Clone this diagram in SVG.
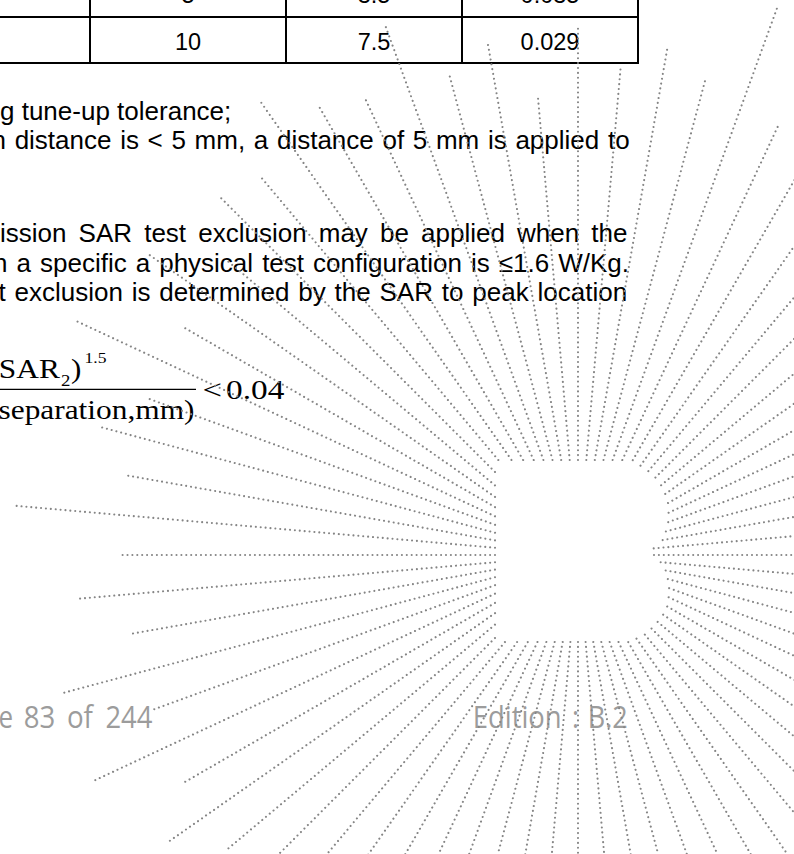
<svg xmlns="http://www.w3.org/2000/svg" width="794" height="854" viewBox="0 0 794 854">
<style>
.body{font-family:"Liberation Sans",Arial,sans-serif;font-size:26px;fill:#000}
.cell{font-family:"Liberation Sans",Arial,sans-serif;font-size:23.5px;fill:#000;text-anchor:middle}
.math{font-family:"Liberation Serif","Times New Roman",serif;fill:#000}
.foot{font-family:"Open Sans","Noto Sans",sans-serif;font-size:31px;fill:#9c9c9c}
</style>
<rect width="794" height="854" fill="#fff"/>
<g id="table">
<g stroke="#000" stroke-width="2" fill="none">
<line x1="0" y1="17" x2="639" y2="17"/>
<line x1="0" y1="63" x2="639" y2="63"/>
<line x1="90" y1="0" x2="90" y2="64"/>
<line x1="286" y1="0" x2="286" y2="64"/>
<line x1="462" y1="0" x2="462" y2="64"/>
<line x1="638" y1="0" x2="638" y2="64"/>
</g>
<text class="cell" x="188" y="3">5</text>
<text class="cell" x="374" y="3">3.5</text>
<text class="cell" x="550" y="3">0.035</text>
<text class="cell" x="188" y="50">10</text>
<text class="cell" x="374" y="50">7.5</text>
<text class="cell" x="550" y="50">0.029</text>
</g>
<g id="notes">
<text class="body" x="0" y="120">g tune-up tolerance;</text>
<text class="body" x="-8.5" y="149" word-spacing="1.45">n distance is &lt; 5 mm, a distance of 5 mm is applied to</text>
<text class="body" x="0" y="242" word-spacing="4.9">ission SAR test exclusion may be applied when the</text>
<text class="body" x="-7" y="272" word-spacing="1.8">n a specific a physical test configuration is ≤1.6 W/Kg.</text>
<text class="body" x="-1.5" y="301" word-spacing="1.6">t exclusion is determined by the SAR to peak location</text>
</g>
<g id="formula">
<text class="math" x="-1.2" y="377.7" font-size="26.7" textLength="61" lengthAdjust="spacingAndGlyphs">SAR</text>
<text class="math" x="61" y="386" font-size="16" textLength="9.4" lengthAdjust="spacingAndGlyphs">2</text>
<text class="math" x="71" y="377.7" font-size="26.7" textLength="10.4" lengthAdjust="spacingAndGlyphs">)</text>
<text class="math" x="84.5" y="363.3" font-size="15" textLength="22" lengthAdjust="spacingAndGlyphs">1.5</text>
<line x1="0" y1="389.3" x2="196" y2="389.3" stroke="#000" stroke-width="1.3"/>
<text class="math" x="202.5" y="399" font-size="26.7" textLength="19.5" lengthAdjust="spacingAndGlyphs">&lt;</text>
<text class="math" x="226" y="399" font-size="26.7" textLength="58.3" lengthAdjust="spacingAndGlyphs">0.04</text>
<text class="math" x="-1.5" y="419" font-size="26.7" textLength="196" lengthAdjust="spacingAndGlyphs">separation,mm)</text>
</g>
<g id="footer">
<text class="foot" x="-1.6" y="728" textLength="14.6" lengthAdjust="spacingAndGlyphs">e</text>
<text class="foot" x="23.7" y="728" textLength="31.5" lengthAdjust="spacingAndGlyphs">83</text>
<text class="foot" x="66.9" y="728" textLength="26" lengthAdjust="spacingAndGlyphs">of</text>
<text class="foot" x="105.4" y="728" textLength="47" lengthAdjust="spacingAndGlyphs">244</text>
<text class="foot" x="472.7" y="728" textLength="89" lengthAdjust="spacingAndGlyphs">Edition</text>
<text class="foot" x="572" y="728" textLength="7" lengthAdjust="spacingAndGlyphs">:</text>
<text class="foot" x="587.7" y="728" textLength="40" lengthAdjust="spacingAndGlyphs">B.2</text>
</g>
<g id="rays" transform="translate(578 555)" fill="none" stroke="#858585" stroke-width="2.1" stroke-linecap="round" stroke-dasharray="0 4.9">
<line x1="76" x2="800" transform="rotate(0)"/>
<line x1="83" x2="800" transform="rotate(5)"/>
<line x1="89" x2="800" transform="rotate(10)"/>
<line x1="93" x2="800" transform="rotate(15)"/>
<line x1="97" x2="800" transform="rotate(20)"/>
<line x1="100" x2="800" transform="rotate(25)"/>
<line x1="103" x2="800" transform="rotate(30)"/>
<line x1="104" x2="800" transform="rotate(35)"/>
<line x1="104" x2="800" transform="rotate(40)"/>
<line x1="104" x2="800" transform="rotate(45)"/>
<line x1="104" x2="800" transform="rotate(50)"/>
<line x1="102" x2="800" transform="rotate(55)"/>
<line x1="100.5" x2="800" transform="rotate(60)"/>
<line x1="96" x2="800" transform="rotate(65)"/>
<line x1="92.6" x2="800" transform="rotate(70)"/>
<line x1="90.1" x2="800" transform="rotate(75)"/>
<line x1="88.3" x2="800" transform="rotate(80)"/>
<line x1="87.3" x2="800" transform="rotate(85)"/>
<line x1="87" x2="800" transform="rotate(90)"/>
<line x1="87.3" x2="800" transform="rotate(95)"/>
<line x1="88.3" x2="800" transform="rotate(100)"/>
<line x1="90.1" x2="800" transform="rotate(105)"/>
<line x1="92.6" x2="800" transform="rotate(110)"/>
<line x1="96" x2="800" transform="rotate(115)"/>
<line x1="100.5" x2="800" transform="rotate(120)"/>
<line x1="106.2" x2="800" transform="rotate(125)"/>
<line x1="113.6" x2="800" transform="rotate(130)"/>
<line x1="117.4" x2="800" transform="rotate(135)"/>
<line x1="108.4" x2="457.7" transform="rotate(140)"/>
<line x1="101.3" x2="501.9" transform="rotate(145)"/>
<line x1="95.8" x2="457.9" transform="rotate(150)"/>
<line x1="91.6" x2="535" transform="rotate(155)"/>
<line x1="88.3" x2="452.6" transform="rotate(160)"/>
<line x1="85.9" x2="533.2" transform="rotate(165)"/>
<line x1="84.3" x2="456" transform="rotate(170)"/>
<line x1="83.3" x2="503.8" transform="rotate(175)"/>
<line x1="83" x2="457" transform="rotate(180)"/>
<line x1="83.3" x2="566" transform="rotate(185)"/>
<line x1="84.3" x2="457" transform="rotate(190)"/>
<line x1="85.9" x2="494.8" transform="rotate(195)"/>
<line x1="88.3" x2="458" transform="rotate(200)"/>
<line x1="91.6" x2="553.4" transform="rotate(205)"/>
<line x1="95.8" x2="458" transform="rotate(210)"/>
<line x1="101.3" x2="523.8" transform="rotate(215)"/>
<line x1="108.4" x2="458" transform="rotate(220)"/>
<line x1="117.4" x2="508.4" transform="rotate(225)"/>
<line x1="124" x2="492" transform="rotate(230)"/>
<line x1="116" x2="554.5" transform="rotate(235)"/>
<line x1="109.7" x2="516.7" transform="rotate(240)"/>
<line x1="104.8" x2="505.5" transform="rotate(245)"/>
<line x1="101.1" x2="566" transform="rotate(250)"/>
<line x1="98.4" x2="500" transform="rotate(255)"/>
<line x1="96.5" x2="522.8" transform="rotate(260)"/>
<line x1="95.4" x2="458.8" transform="rotate(265)"/>
<line x1="95" x2="528" transform="rotate(270)"/>
<line x1="95.4" x2="489.7" transform="rotate(275)"/>
<line x1="96.5" x2="517.7" transform="rotate(280)"/>
<line x1="98.4" x2="491.2" transform="rotate(285)"/>
<line x1="101.1" x2="582.3" transform="rotate(290)"/>
<line x1="104.8" x2="475.6" transform="rotate(295)"/>
<line x1="109.5" x2="800" transform="rotate(300)"/>
<line x1="109" x2="800" transform="rotate(305)"/>
<line x1="109.5" x2="800" transform="rotate(310)"/>
<line x1="109.5" x2="800" transform="rotate(315)"/>
<line x1="108.5" x2="800" transform="rotate(320)"/>
<line x1="106.5" x2="800" transform="rotate(325)"/>
<line x1="104" x2="800" transform="rotate(330)"/>
<line x1="100" x2="800" transform="rotate(335)"/>
<line x1="96" x2="800" transform="rotate(340)"/>
<line x1="91" x2="800" transform="rotate(345)"/>
<line x1="86" x2="800" transform="rotate(350)"/>
<line x1="76" x2="800" transform="rotate(355)"/>
</g>
</svg>
